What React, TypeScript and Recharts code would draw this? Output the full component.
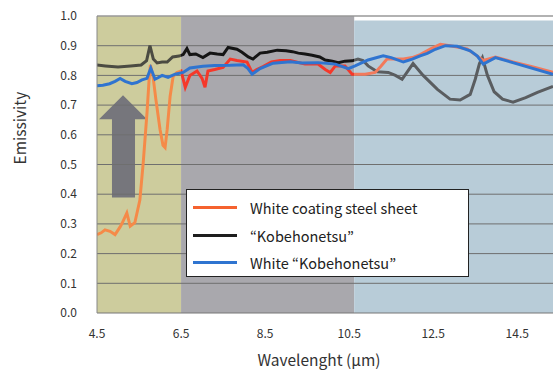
import React from 'react';
import {
  LineChart, Line, XAxis, YAxis, ReferenceArea, ReferenceLine
} from 'recharts';

// White coating steel sheet
const coatingWave = [4.5, 4.6, 4.69, 4.81, 4.93, 5.05, 5.1, 5.21, 5.29, 5.4, 5.52, 5.6, 5.69, 5.74, 5.77, 5.83, 5.9, 6.0, 6.07, 6.12, 6.17, 6.24, 6.31, 6.4, 6.5, 6.6, 6.71, 6.88, 7.0, 7.07, 7.14, 7.3, 7.5, 7.67, 7.83, 8.07, 8.19, 8.3, 8.45, 8.65, 8.86, 9.1, 9.45, 9.76, 9.93, 10.05, 10.17, 10.4, 10.57, 10.88, 11.12, 11.25, 11.4, 11.6, 11.79, 12.0, 12.19, 12.45, 12.67, 12.9, 13.1, 13.31, 13.5, 13.69, 13.98, 14.4, 14.9, 15.35];
const coatingEmis = [0.264, 0.27, 0.28, 0.275, 0.264, 0.29, 0.303, 0.337, 0.292, 0.304, 0.38, 0.506, 0.675, 0.787, 0.835, 0.8, 0.72, 0.618, 0.565, 0.557, 0.618, 0.73, 0.795, 0.81, 0.815, 0.76, 0.8, 0.815, 0.79, 0.76, 0.815, 0.82, 0.827, 0.855, 0.85, 0.845, 0.81, 0.82, 0.83, 0.845, 0.85, 0.85, 0.838, 0.838, 0.82, 0.81, 0.832, 0.832, 0.804, 0.804, 0.81, 0.83, 0.855, 0.855, 0.855, 0.86, 0.87, 0.89, 0.905, 0.9, 0.895, 0.889, 0.87, 0.85, 0.862, 0.845, 0.828, 0.81];

// "Kobehonetsu"
const kobeWave = [4.5, 4.7, 5.0, 5.3, 5.55, 5.68, 5.76, 5.84, 5.93, 6.05, 6.17, 6.3, 6.45, 6.55, 6.64, 6.71, 6.85, 7.02, 7.19, 7.36, 7.5, 7.62, 7.83, 7.95, 8.1, 8.21, 8.38, 8.55, 8.79, 9.0, 9.15, 9.29, 9.45, 9.62, 9.8, 9.93, 10.1, 10.24, 10.4, 10.57, 10.71, 10.83, 10.95, 11.17, 11.43, 11.6, 11.76, 12.02, 12.26, 12.6, 12.9, 13.14, 13.38, 13.5, 13.6, 13.67, 13.79, 13.95, 14.15, 14.4, 14.7, 14.98, 15.35];
const kobeEmis = [0.835, 0.832, 0.828, 0.832, 0.835, 0.85, 0.9, 0.855, 0.842, 0.845, 0.845, 0.862, 0.865, 0.87, 0.89, 0.87, 0.872, 0.86, 0.875, 0.872, 0.87, 0.894, 0.888, 0.878, 0.862, 0.855, 0.875, 0.878, 0.885, 0.883, 0.88, 0.875, 0.872, 0.868, 0.862, 0.852, 0.848, 0.843, 0.848, 0.849, 0.855, 0.85, 0.832, 0.812, 0.81, 0.8, 0.787, 0.84, 0.8, 0.753, 0.72, 0.717, 0.736, 0.787, 0.84, 0.86, 0.8, 0.745, 0.72, 0.71, 0.725, 0.743, 0.763];

// White "Kobehonetsu"
const whiteWave = [4.5, 4.64, 4.8, 4.93, 5.05, 5.17, 5.33, 5.45, 5.57, 5.69, 5.78, 5.88, 5.95, 6.05, 6.19, 6.36, 6.55, 6.71, 7.02, 7.3, 7.67, 7.98, 8.08, 8.19, 8.38, 8.69, 9.1, 9.38, 9.76, 10.17, 10.48, 10.64, 10.95, 11.31, 11.5, 11.79, 12.0, 12.19, 12.36, 12.55, 12.79, 13.07, 13.38, 13.55, 13.69, 13.98, 15.35];
const whiteEmis = [0.765, 0.767, 0.772, 0.78, 0.79, 0.78, 0.772, 0.776, 0.785, 0.79, 0.825, 0.787, 0.792, 0.8, 0.793, 0.804, 0.81, 0.825, 0.831, 0.833, 0.834, 0.836, 0.825, 0.804, 0.823, 0.841, 0.846, 0.842, 0.843, 0.838, 0.823, 0.832, 0.852, 0.866, 0.86, 0.845, 0.855, 0.866, 0.874, 0.888, 0.9, 0.898, 0.883, 0.865, 0.838, 0.86, 0.804];

const xTicks = [4.5, 6.5, 8.5, 10.5, 12.5, 14.5];
const yTicks = [0, 0.1, 0.2, 0.3, 0.4, 0.5, 0.6, 0.7, 0.8, 0.9, 1.0];
const gridLevels = [0.1, 0.2, 0.3, 0.4, 0.5, 0.6, 0.7, 0.8, 0.9];

const seriesNames = ['White coating steel sheet', '\u201CKobehonetsu\u201D', 'White \u201CKobehonetsu\u201D'];

const X_MIN = 4.5;
const X_MAX = 15.35;
const BAND_1 = 6.5;
const BAND_2 = 10.62;

const zip = (xs: number[], ys: number[]) => xs.map((x, i) => ({ x, y: ys[i] }));

const coatingData = zip(coatingWave, coatingEmis);
const kobeData = zip(kobeWave, kobeEmis);
const whiteData = zip(whiteWave, whiteEmis);

const FONT = "'Noto Sans CJK JP', 'Noto Sans', sans-serif";
const off1 = (BAND_1 - X_MIN) / (X_MAX - X_MIN);
const off2 = (BAND_2 - X_MIN) / (X_MAX - X_MIN);

const Arrow = (props: any) => {
  const { x, y, width, height } = props;
  const headH = height * 0.235;
  const sL = x + width * 0.27;
  const sR = x + width * 0.75;
  const pts = [
    [x + width / 2, y],
    [x + width, y + headH],
    [sR, y + headH],
    [sR, y + height],
    [sL, y + height],
    [sL, y + headH],
    [x, y + headH],
  ].map((p) => p.join(',')).join(' ');
  return <polygon points={pts} fill="#76767c" />;
};

const legendColors = ['#f5622f', '#1e1e1e', '#2f74d0'];

const LegendBox = () => (
  <div style={{
    position: 'absolute', left: 186, top: 189,
    width: 283, height: 88, background: '#fff', border: '1.5px solid #222',
    boxSizing: 'border-box', fontFamily: FONT, fontSize: 14.5, color: '#222', paddingTop: 4,
  }}>
    {seriesNames.map((n, i) => (
      <div key={n} style={{ display: 'flex', alignItems: 'center', height: 27.5 }}>
        <div style={{ width: 44, height: 3, background: legendColors[i], marginLeft: 6, marginRight: 13 }} />
        <span>{n}</span>
      </div>
    ))}
  </div>
);

export default function App() {
  return (
    <div style={{ position: 'relative', width: 554, height: 372, background: '#fff', fontFamily: FONT }}>
      <style>{'body{margin:0}'}</style>
      <LineChart width={554} height={372} margin={{ top: 16, right: 1, bottom: 0, left: 0 }}>
        <defs>
          <linearGradient id="kobeStroke" x1="0" y1="0" x2="1" y2="0">
            <stop offset={0} stopColor="#4b4b42" />
            <stop offset={off1} stopColor="#4b4b42" />
            <stop offset={off1} stopColor="#151515" />
            <stop offset={off2} stopColor="#151515" />
            <stop offset={off2} stopColor="#5a5d60" />
            <stop offset={1} stopColor="#5a5d60" />
          </linearGradient>
          <linearGradient id="coatStroke" x1="0" y1="0" x2="1" y2="0">
            <stop offset={0} stopColor="#f58a48" />
            <stop offset={off1} stopColor="#f58a48" />
            <stop offset={off1} stopColor="#f5382a" />
            <stop offset={off2} stopColor="#f5382a" />
            <stop offset={off2} stopColor="#f27a5c" />
            <stop offset={1} stopColor="#f27a5c" />
          </linearGradient>
        </defs>
        <XAxis
          dataKey="x"
          type="number"
          domain={[X_MIN, X_MAX]}
          ticks={xTicks}
          allowDataOverflow
          height={59}
          tickLine={false}
          stroke="#777"
          tick={{ fill: '#333', fontSize: 12, fontFamily: FONT }}
          tickFormatter={(v: number) => v.toFixed(1)}
          tickMargin={10}
          label={{ value: 'Wavelenght (\u03BCm)', position: 'insideBottom', offset: 6, dx: -6, fill: '#333', fontSize: 15.5, fontFamily: FONT }}
        />
        <YAxis
          type="number"
          domain={[0, 1]}
          ticks={yTicks}
          width={97}
          tickLine={false}
          stroke="#888"
          tick={{ fill: '#333', fontSize: 12, fontFamily: FONT }}
          tickFormatter={(v: number) => v.toFixed(1)}
          tickMargin={14}
          label={{ value: 'Emissivity', angle: -90, position: 'insideLeft', offset: 20, fill: '#333', fontSize: 15.5, fontFamily: FONT }}
        />
        <ReferenceArea x1={X_MIN} x2={BAND_1} y1={0} y2={1} fill="#cdcc9d" fillOpacity={1} stroke="none" />
        <ReferenceArea x1={BAND_1} x2={BAND_2} y1={0} y2={1} fill="#a9a8ad" fillOpacity={1} stroke="none" />
        <ReferenceArea x1={BAND_2} x2={X_MAX} y1={0} y2={0.985} fill="#b8ccd8" fillOpacity={1} stroke="none" />
        {gridLevels.map((g) => (
          <ReferenceLine key={g} y={g} stroke="#6f6f6f" strokeWidth={1} />
        ))}
        <ReferenceLine y={1} stroke="#999" strokeWidth={1.5} />
        <ReferenceArea x1={4.548} x2={5.69} y1={0.389} y2={0.733} shape={<Arrow />} />
        <Line data={kobeData} dataKey="y" type="linear" stroke="url(#kobeStroke)" strokeWidth={3} dot={false} isAnimationActive={false} />
        <Line data={coatingData} dataKey="y" type="linear" stroke="url(#coatStroke)" strokeWidth={3} dot={false} isAnimationActive={false} />
        <Line data={whiteData} dataKey="y" type="linear" stroke="#2f74d0" strokeWidth={3} dot={false} isAnimationActive={false} />
      </LineChart>
      <LegendBox />
    </div>
  );
}
